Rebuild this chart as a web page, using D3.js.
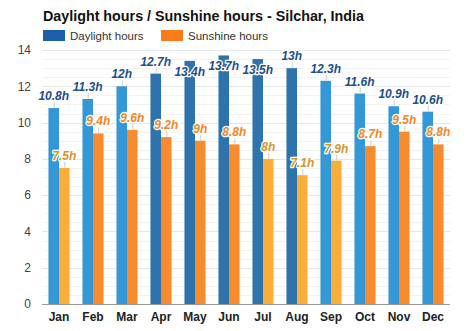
<!DOCTYPE html>
<html><head><meta charset="utf-8">
<script src="https://cdn.jsdelivr.net/npm/d3@7"></script>
<style>body{margin:0;background:#fff}svg{display:block;font-family:"Liberation Sans",Arial,sans-serif}</style>
</head><body><svg id="c" width="474" height="331"></svg>
<script>
const months = ["Jan","Feb","Mar","Apr","May","Jun","Jul","Aug","Sep","Oct","Nov","Dec"];
const daylight = [10.8,11.3,12,12.7,13.4,13.7,13.5,13,12.3,11.6,10.9,10.6];
const sunshine = [7.5,9.4,9.6,9.2,9,8.8,8,7.1,7.9,8.7,9.5,8.8];
const daylightLabels = ["10.8h","11.3h","12h","12.7h","13.4h","13.7h","13.5h","13h","12.3h","11.6h","10.9h","10.6h"];
const sunshineLabels = ["7.5h","9.4h","9.6h","9.2h","9h","8.8h","8h","7.1h","7.9h","8.7h","9.5h","8.8h"];
const yTicks = [0,2,4,6,8,10,12,14];
const seriesNames = ["Daylight hours","Sunshine hours"];

const svg = d3.select("#c");
const L=42,R=450,T=50,B=304;
const x = d3.scaleBand().domain(months).range([L,R]).paddingInner(0.38).paddingOuter(0.19);
const x1 = d3.scaleBand().domain([0,1]).range([0,x.bandwidth()]);
const y = d3.scaleLinear().domain([0,14]).range([B,T]);

// minor grid
svg.append("g").selectAll("line").data(d3.range(0,14.01,0.5).filter(v=>v%2!==0))
 .join("line").attr("x1",L).attr("x2",R).attr("y1",d=>Math.round(y(d))+0.5).attr("y2",d=>Math.round(y(d))+0.5)
 .attr("stroke","#f3f3f3").attr("stroke-width",1);
// major grid
svg.append("g").selectAll("line").data(yTicks.filter(v=>v>0))
 .join("line").attr("x1",L).attr("x2",R).attr("y1",d=>Math.round(y(d))+0.5).attr("y2",d=>Math.round(y(d))+0.5)
 .attr("stroke","#e6e6e6").attr("stroke-width",1);

// y axis labels
const yAxis = d3.axisLeft(y).tickValues(yTicks).tickSize(0).tickPadding(11);
const ya = svg.append("g").attr("transform",`translate(${L},0)`).call(yAxis);
ya.select(".domain").remove();
ya.selectAll("text").attr("font-size",12).attr("fill","#444").attr("font-family","Liberation Sans, Arial, sans-serif");

const dlColor = v => v>=12.5 ? "#2e73ab" : "#3497d6";
const ssColor = v => v<8.2 ? "#fbae37" : "#f78b2e";
const ssLabColor = v => v<8.2 ? "#d6952c" : "#f4862a";

const g = svg.append("g");
months.forEach((m,i)=>{
  g.append("rect").attr("x",x(m)+x1(0)).attr("y",y(daylight[i])).attr("width",x1.bandwidth())
   .attr("height",B-y(daylight[i])).attr("fill",dlColor(daylight[i]));
  g.append("rect").attr("x",x(m)+x1(1)).attr("y",y(sunshine[i])).attr("width",x1.bandwidth())
   .attr("height",B-y(sunshine[i])).attr("fill",ssColor(sunshine[i]));
});

// x axis line
svg.append("line").attr("x1",L).attr("x2",R).attr("y1",B+0.5).attr("y2",B+0.5).attr("stroke","#999");
const xa = svg.append("g").attr("transform",`translate(0,${B})`).call(d3.axisBottom(x).tickSize(0).tickPadding(8));
xa.select(".domain").remove();
xa.selectAll("text").attr("font-size",12).attr("font-weight","bold").attr("fill","#222").attr("font-family","Liberation Sans, Arial, sans-serif");

// value labels
function addLabel(cx, top, text, color, inside){
  const by = inside ? top+15 : top-8;
  if(!inside){
    g.append("line").attr("x1",cx+0.5).attr("x2",cx+0.5).attr("y1",top-6).attr("y2",top).attr("stroke","#ccc");
  }
  g.append("text").attr("x",cx).attr("y",by).attr("text-anchor","middle")
   .attr("font-size",12).attr("font-weight","bold").attr("font-style","italic")
   .attr("fill",color).attr("stroke","#fff").attr("stroke-width",2.5).attr("paint-order","stroke")
   .attr("stroke-linejoin","round").text(text);
}
months.forEach((m,i)=>{
  const cx0 = x(m)+x1(0)+x1.bandwidth()/2;
  addLabel(cx0, y(daylight[i]), daylightLabels[i], "#1c4f8c", daylight[i]>13.2);
  const cx1 = x(m)+x1(1)+x1.bandwidth()/2;
  addLabel(cx1, y(sunshine[i]), sunshineLabels[i], ssLabColor(sunshine[i]), false);
});

// title
svg.append("text").attr("x",43).attr("y",21).attr("font-size",14.3).attr("font-weight","bold").attr("fill","#111")
 .text("Daylight hours / Sunshine hours - Silchar, India");
// legend
const leg = svg.append("g");
[[43,"#1f5ea8"],[161,"#f97c1a"]].forEach(([lx,c],k)=>{
  leg.append("rect").attr("x",lx).attr("y",30).attr("width",22).attr("height",11).attr("fill",c);
  leg.append("text").attr("x",lx+27).attr("y",39.5).attr("font-size",11.5).attr("fill","#333").text(seriesNames[k]);
});
</script></body></html>
